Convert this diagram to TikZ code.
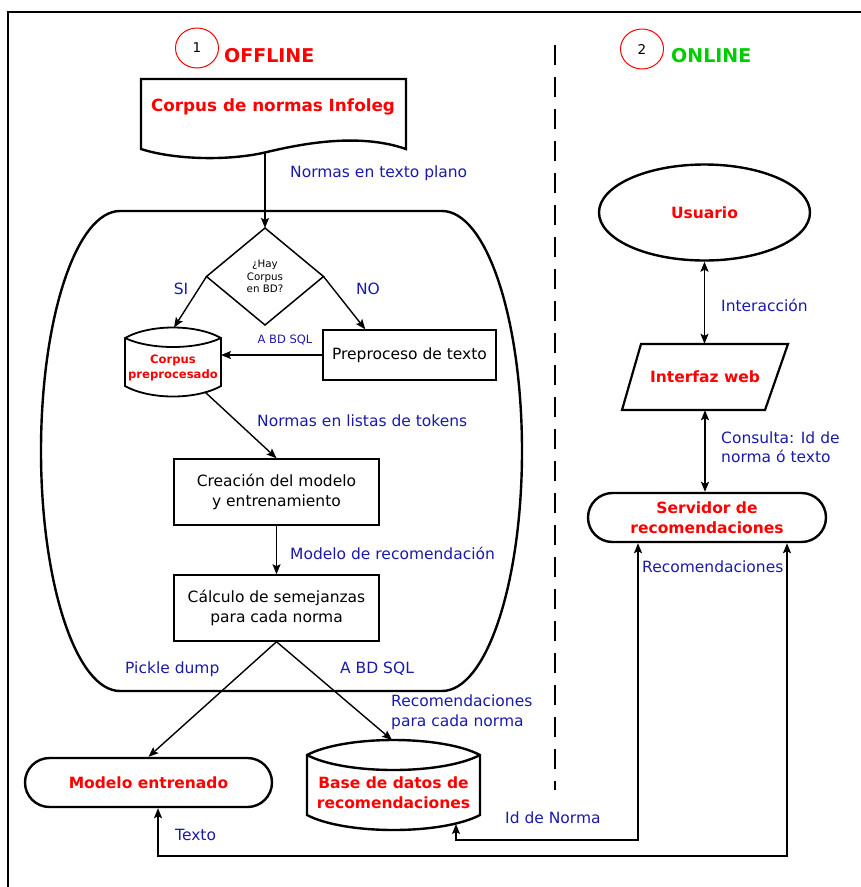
\documentclass[tikz,border=0pt]{standalone}
\usepackage{fontspec}
\setmainfont{DejaVu Sans}
\usetikzlibrary{arrows.meta,shapes.geometric,shapes.misc,calc}
\definecolor{lblblue}{RGB}{26,26,170}
\definecolor{hdred}{RGB}{255,0,0}
\definecolor{hdgreen}{RGB}{0,204,0}
\begin{document}
\begin{tikzpicture}[x=1pt,y=-1pt,
  heavy/.style={draw=black, line width=2.4pt},
  box/.style={draw=black, line width=1.5pt, rectangle, align=center, inner sep=0pt,
    font=\fontsize{15.5}{19.5}\selectfont},
  tag/.style={text=hdred, font=\fontsize{15.5}{19.5}\selectfont\bfseries, align=center, inner sep=0pt},
  lbl/.style={text=lblblue, font=\fontsize{15.5}{19.5}\selectfont, align=left, inner sep=0pt},
  conn/.style={draw=black, line width=1.4pt},
  tip/.style={-{Stealth[length=10pt,width=8pt,inset=2pt]}},
  dtip/.style={{Stealth[length=10pt,width=8pt,inset=2pt]}-{Stealth[length=10pt,width=8pt,inset=2pt]}},
  stadium/.style={rounded rectangle, heavy, inner sep=0pt},
  numring/.style={ellipse, draw=hdred, line width=1pt, inner sep=0pt,
    minimum width=43, minimum height=40, font=\fontsize{13.5}{15}\selectfont}
]
\useasboundingbox (0,0) rectangle (861,887);

% frame and separator between the two phases
\draw[line width=1.5pt] (8,887) -- (8,12) -- (861,12);
\draw[line width=1.5pt, dash pattern=on 20pt off 12pt] (555,45) -- (555,790);

% phase headers
\node[numring] (n1) at (197,48) {1};
\node[anchor=west, text=hdred, font=\fontsize{19}{22}\selectfont\bfseries, inner sep=0pt] (off) at (224,56) {OFFLINE};
\node[numring] (n2) at (642,49) {2};
\node[anchor=west, text=hdgreen, font=\fontsize{19}{22}\selectfont\bfseries, inner sep=0pt] (on) at (671,56) {ONLINE};

% ---------------- OFFLINE ----------------
% document shape: source corpus
\draw[heavy] (406,149) -- (406,79) -- (141,79) -- (141,149)
  .. controls (175,160) and (230,161) .. (267,152)
  .. controls (305,143) and (360,133) .. (406,149) -- cycle;
\node[tag, font=\fontsize{16.8}{19}\selectfont\bfseries] (doc) at (273,107) {Corpus de normas Infoleg};
\coordinate (docb) at (265,152);

% processing container
\draw[heavy] (120,211) -- (442,211)
  arc[start angle=-90, end angle=90, x radius=80, y radius=240]
  -- (120,691)
  arc[start angle=90, end angle=270, x radius=79, y radius=240] -- cycle;

% decision
\node[diamond, draw=black, line width=1.5pt, minimum width=117, minimum height=97,
  inner sep=0pt, outer sep=0pt, align=center, font=\fontsize{10.3}{12.5}\selectfont]
  (q) at (265,276.5) {¿Hay\\Corpus\\en BD?};

% stored corpus (cylinder)
\draw[line width=1.8pt] (125,338) .. controls (150,324) and (196,324) .. (221,338)
  -- (221,386) .. controls (196,400) and (150,400) .. (125,386) -- cycle;
\draw[line width=1.8pt] (125,338) .. controls (150,350) and (196,350) .. (221,338);
\node[tag, font=\fontsize{11.6}{15}\selectfont\bfseries] (cp) at (173,368) {Corpus\\preprocesado};
\coordinate (cpt) at (174,327.5);
\coordinate (cpr) at (221,353);
\coordinate (cpo) at (205,392);

\node[box, minimum width=173, minimum height=50] (pre) at (409.5,355) {Preproceso de texto};
\node[box, minimum width=205, minimum height=66] (cre) at (276.5,492) {Creación del modelo\\y entrenamiento};
\node[box, minimum width=205, minimum height=66] (cal) at (276.5,608) {Cálculo de semejanzas\\para cada norma};

% outputs
\node[stadium, tag, minimum width=247, minimum height=49] (mod) at (148.5,782.5) {Modelo entrenado};
\draw[heavy] (307,755) .. controls (345,735) and (442,735) .. (480,755)
  -- (480,815) .. controls (442,835) and (345,835) .. (307,815) -- cycle;
\draw[heavy] (307,755) .. controls (345,775) and (442,775) .. (480,755);
\node[tag] (bd) at (393.5,792.5) {Base de datos de\\recomendaciones};
\coordinate (bdt) at (392,740);
\coordinate (bdb) at (456,824);

% offline connectors
\draw[conn, tip] (docb) -- (q.north);
\draw[conn, tip] (q.west) -- (cpt);
\draw[conn, tip] (q.east) -- ($(pre.north west)+(43,0)$);
\draw[conn, tip] (pre.west) -- (pre.west -| cpr);
\draw[conn, tip] (cpo) -- (cre.north);
\draw[conn, tip] (cre.south) -- (cal.north);
\draw[conn, tip] (cal.south) -- (mod.north);
\draw[conn, tip] (cal.south) -- (bdt);

% offline labels
\node[lbl, anchor=west] (l1) at (290,173) {Normas en texto plano};
\node[lbl] (lsi) at (181,289) {SI};
\node[lbl] (lno) at (368,289) {NO};
\node[lbl, font=\fontsize{11.5}{14}\selectfont] (l2) at (285,340) {A BD SQL};
\node[lbl, anchor=west] (l3) at (257,421) {Normas en listas de tokens};
\node[lbl, anchor=west] (l4) at (290,553) {Modelo de recomendación};
\node[lbl, anchor=west] (l5) at (125,669) {Pickle dump};
\node[lbl, anchor=west] (l6) at (340,669) {A BD SQL};
\node[lbl, anchor=west] (l7) at (391,712) {Recomendaciones\\para cada norma};

% ---------------- ONLINE ----------------
\node[ellipse, heavy, tag, minimum width=211, minimum height=96] (usr) at (704.5,212.5) {Usuario};
\draw[line width=2.2pt] (641,344) -- (788,344) -- (765,410) -- (622,410) -- cycle;
\node[tag, minimum width=140, minimum height=66] (web) at (705,377) {Interfaz web};
\node[stadium, tag, minimum width=238, minimum height=49] (srv) at (707,517.5) {Servidor de\\recomendaciones};

\draw[conn, dtip] (usr.south) -- (usr.south |- web.north);
\draw[conn, dtip] (web.south) -- (web.south |- srv.north);

\node[lbl, anchor=west] (l8) at (721,305) {Interacción};
\node[lbl, anchor=west] (l9) at (721,447) {Consulta: Id de\\norma ó texto};
\node[lbl, anchor=west] (l10) at (642,567) {Recomendaciones};

% return paths from the server to the stored outputs
\coordinate (t1) at (638,840);
\coordinate (t2) at (787,856);
\coordinate (t3) at (158,856);
\draw[conn, dtip] (srv.south -| t1) -- (t1) -| (bdb);
\draw[conn, dtip] (srv.south -| t2) -- (t2) -- (t3) -- (t3 |- mod.south);

\node[lbl, anchor=west] (l11) at (505,818) {Id de Norma};
\node[lbl, anchor=west] (l12) at (175,835) {Texto};
\end{tikzpicture}
\end{document}
